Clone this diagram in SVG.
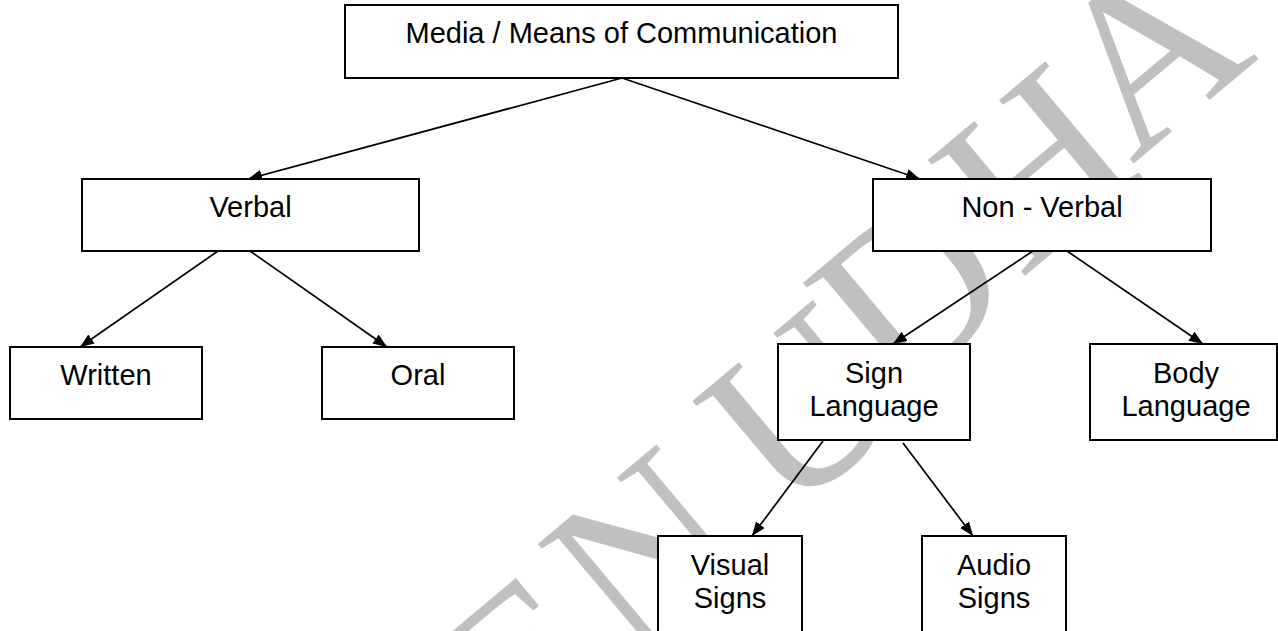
<svg xmlns="http://www.w3.org/2000/svg" width="1278" height="631" viewBox="0 0 1278 631">
<defs>
<style>
.box{fill:#fff;stroke:#000;stroke-width:2}
.lbl{font-family:"Liberation Sans",Arial,sans-serif;font-size:29px;fill:#000;text-anchor:middle}
.wm{font-family:"Liberation Serif","Times New Roman",serif;font-size:231px;fill:#c0c0c0}
.conn line{stroke:#000;stroke-width:1.7;marker-end:url(#ah)}
</style>
<marker id="ah" viewBox="0 0 14 11" refX="14" refY="5.5" markerWidth="14" markerHeight="11" markerUnits="userSpaceOnUse" orient="auto">
<path d="M0,0 L14,5.5 L0,11 Z" fill="#000"/>
</marker>
</defs>
<rect width="1278" height="631" fill="#fff"/>
<g id="watermark">
<text class="wm" transform="translate(521,771) rotate(-40)">E</text>
<text class="wm" transform="translate(630,664) rotate(-40)">N</text>
<text class="wm" transform="translate(786,520) rotate(-40)">U</text>
<text class="wm" transform="translate(895,403) rotate(-40)">D</text>
<text class="wm" transform="translate(1020,280) rotate(-40)">H</text>
<text class="wm" transform="translate(1132,165) rotate(-40)">A</text>
</g>
<g id="connectors" class="conn">
<line x1="622" y1="78" x2="248" y2="179"/>
<line x1="622" y1="78" x2="920" y2="179"/>
<line x1="218" y1="251" x2="80" y2="347"/>
<line x1="250" y1="251" x2="387" y2="347"/>
<line x1="1033" y1="251" x2="893" y2="344"/>
<line x1="1067" y1="251" x2="1203" y2="344"/>
<line x1="823" y1="441" x2="752" y2="536"/>
<line x1="903" y1="443" x2="973" y2="536"/>
</g>
<g id="n-root"><rect class="box" x="345" y="5" width="553" height="73"/><text class="lbl" x="621.5" y="43">Media / Means of Communication</text></g>
<g id="n-verbal"><rect class="box" x="82" y="179" width="337" height="72"/><text class="lbl" x="250.5" y="217">Verbal</text></g>
<g id="n-nonverbal"><rect class="box" x="873" y="179" width="338" height="72"/><text class="lbl" x="1042" y="217">Non - Verbal</text></g>
<g id="n-written"><rect class="box" x="10" y="347" width="192" height="72"/><text class="lbl" x="106" y="385">Written</text></g>
<g id="n-oral"><rect class="box" x="322" y="347" width="192" height="72"/><text class="lbl" x="418" y="385">Oral</text></g>
<g id="n-sign"><rect class="box" x="778" y="344" width="192" height="96"/><text class="lbl" x="874" y="383">Sign<tspan x="874" dy="33">Language</tspan></text></g>
<g id="n-body"><rect class="box" x="1090" y="344" width="187" height="96"/><text class="lbl" x="1186" y="383">Body<tspan x="1186" dy="33">Language</tspan></text></g>
<g id="n-visual"><rect class="box" x="658" y="536" width="144" height="110"/><text class="lbl" x="730" y="575">Visual<tspan x="730" dy="33">Signs</tspan></text></g>
<g id="n-audio"><rect class="box" x="922" y="536" width="144" height="110"/><text class="lbl" x="994" y="575">Audio<tspan x="994" dy="33">Signs</tspan></text></g>
</svg>
